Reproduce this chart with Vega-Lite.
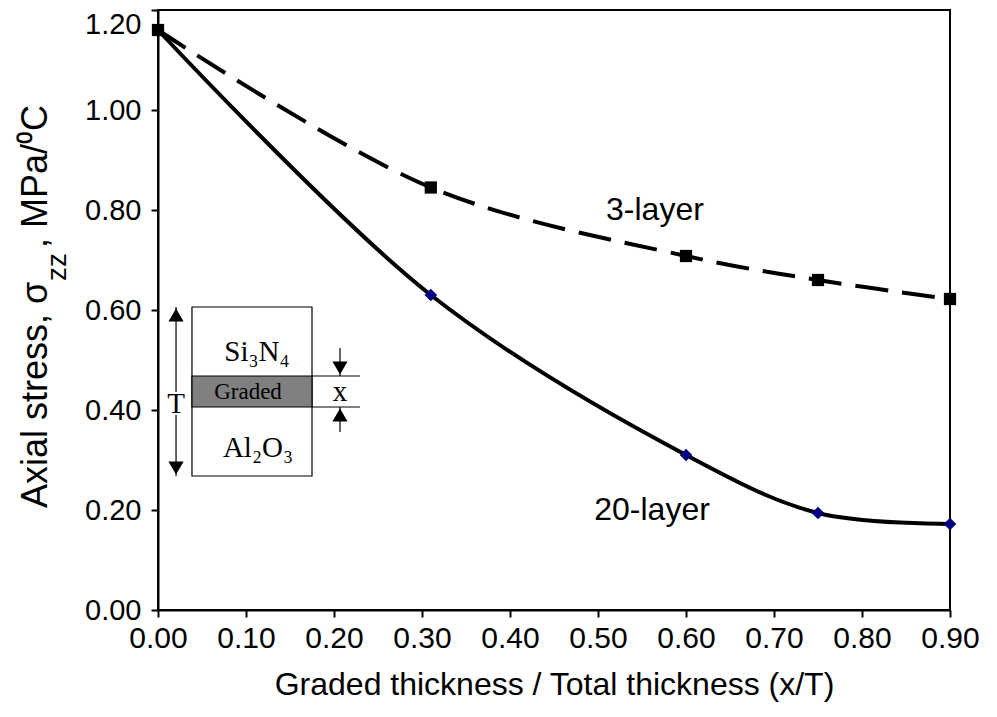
{
  "$schema": "https://vega.github.io/schema/vega-lite/v6.json",
  "width": 792,
  "height": 600,
  "autosize": {"type": "none"},
  "padding": {"left": 158, "top": 10, "right": 47, "bottom": 107},
  "background": "white",
  "config": {"view": {"stroke": "black", "strokeWidth": 2}, "font": "Liberation Sans"},
  "datasets": {
    "curves": [
      {"series": "3-layer", "x": 0, "y": 1.16},
      {"series": "3-layer", "x": 0.31, "y": 0.845},
      {"series": "3-layer", "x": 0.6, "y": 0.708},
      {"series": "3-layer", "x": 0.75, "y": 0.66},
      {"series": "3-layer", "x": 0.9, "y": 0.622},
      {"series": "20-layer", "x": 0, "y": 1.16},
      {"series": "20-layer", "x": 0.31, "y": 0.63},
      {"series": "20-layer", "x": 0.6, "y": 0.31},
      {"series": "20-layer", "x": 0.75, "y": 0.194},
      {"series": "20-layer", "x": 0.9, "y": 0.172}
    ],
    "boxes": [
      {"part": "box", "x": 0.0386, "x2": 0.175, "y": 0.268, "y2": 0.606},
      {"part": "band", "x": 0.0386, "x2": 0.175, "y": 0.406, "y2": 0.468}
    ],
    "hlines": [
      {"x": 0.175, "x2": 0.2295, "y": 0.468},
      {"x": 0.175, "x2": 0.2295, "y": 0.406}
    ],
    "vlines": [
      {"x": 0.0205, "y": 0.436, "y2": 0.606},
      {"x": 0.0205, "y": 0.268, "y2": 0.39},
      {"x": 0.2068, "y": 0.468, "y2": 0.524},
      {"x": 0.2068, "y": 0.356, "y2": 0.406}
    ],
    "heads": [
      {"dir": "up", "x": 0.0205, "y": 0.59},
      {"dir": "up", "x": 0.2068, "y": 0.39},
      {"dir": "down", "x": 0.0205, "y": 0.284},
      {"dir": "down", "x": 0.2068, "y": 0.484}
    ],
    "insetText": [
      {"kind": "big", "x": 0.1125, "y": 0.516, "t": "Si₃N₄"},
      {"kind": "big", "x": 0.1136, "y": 0.324, "t": "Al₂O₃"},
      {"kind": "small", "x": 0.1023, "y": 0.437, "t": "Graded"},
      {"kind": "big", "x": 0.0205, "y": 0.412, "t": "T"},
      {"kind": "big", "x": 0.2068, "y": 0.436, "t": "x"}
    ],
    "labels": [
      {"x": 0.5647, "y": 0.8, "t": "3-layer"},
      {"x": 0.5614, "y": 0.2, "t": "20-layer"}
    ],
    "ytitle": [
      {"kind": "main", "x": -0.1386, "y": 0.204, "t": "Axial stress, σ"},
      {"kind": "sub", "x": -0.1136, "y": 0.658, "t": "zz"},
      {"kind": "main", "x": -0.1386, "y": 0.724, "t": ", MPa/⁰C"}
    ]
  },
  "encoding": {
    "x": {
      "field": "x", "type": "quantitative",
      "scale": {"domain": [0, 0.9], "nice": false, "zero": false},
      "axis": {
        "values": [0, 0.1, 0.2, 0.3, 0.4, 0.5, 0.6, 0.7, 0.8, 0.9],
        "format": ".2f", "grid": false,
        "domainColor": "black", "domainWidth": 2,
        "tickColor": "black", "tickWidth": 2, "tickSize": 7,
        "labelFont": "Liberation Sans Narrow, Arial Narrow, Liberation Sans", "labelFontSize": 30, "labelColor": "black",
        "labelPadding": 6, "labelFlush": false, "labelOverlap": false,
        "title": "Graded thickness / Total thickness (x/T)",
        "titleFont": "Liberation Sans", "titleFontSize": 32, "titleFontWeight": "normal",
        "titleColor": "black", "titlePadding": 16
      }
    },
    "y": {
      "field": "y", "type": "quantitative",
      "scale": {"domain": [0, 1.2], "nice": false, "zero": false},
      "axis": {
        "values": [0, 0.2, 0.4, 0.6, 0.8, 1.0, 1.2],
        "format": ".2f", "grid": false,
        "domainColor": "black", "domainWidth": 2,
        "tickColor": "black", "tickWidth": 2, "tickSize": 7,
        "labelFont": "Liberation Sans", "labelFontSize": 29, "labelColor": "black",
        "labelBaseline": {"condition": {"test": "datum.value >= 1.2", "value": "top"}, "value": "middle"},
        "labelPadding": 10, "labelFlush": false, "labelOverlap": false,
        "title": null
      }
    }
  },
  "layer": [
    {
      "data": {"name": "boxes"},
      "transform": [{"filter": "datum.part == 'box'"}],
      "mark": {"type": "rect", "fill": "white", "stroke": "black", "strokeWidth": 1.2},
      "encoding": {"x2": {"field": "x2"}, "y2": {"field": "y2"}}
    },
    {
      "data": {"name": "boxes"},
      "transform": [{"filter": "datum.part == 'band'"}],
      "mark": {"type": "rect", "fill": "#808080", "stroke": "black", "strokeWidth": 1.2},
      "encoding": {"x2": {"field": "x2"}, "y2": {"field": "y2"}}
    },
    {
      "data": {"name": "hlines"},
      "mark": {"type": "rule", "color": "black", "strokeWidth": 1.2},
      "encoding": {"x2": {"field": "x2"}}
    },
    {
      "data": {"name": "vlines"},
      "mark": {"type": "rule", "color": "black", "strokeWidth": 1.2},
      "encoding": {"y2": {"field": "y2"}}
    },
    {
      "data": {"name": "heads"},
      "transform": [{"filter": "datum.dir == 'up'"}],
      "mark": {"type": "point", "shape": "triangle-up", "filled": true, "color": "black", "size": 230, "opacity": 1}
    },
    {
      "data": {"name": "heads"},
      "transform": [{"filter": "datum.dir == 'down'"}],
      "mark": {"type": "point", "shape": "triangle-down", "filled": true, "color": "black", "size": 230, "opacity": 1}
    },
    {
      "data": {"name": "insetText"},
      "transform": [{"filter": "datum.kind == 'big'"}],
      "mark": {"type": "text", "font": "Liberation Serif", "fontSize": 29, "color": "black", "align": "center", "baseline": "middle"},
      "encoding": {"text": {"field": "t"}}
    },
    {
      "data": {"name": "insetText"},
      "transform": [{"filter": "datum.kind == 'small'"}],
      "mark": {"type": "text", "font": "Liberation Serif", "fontSize": 23, "color": "black", "align": "center", "baseline": "middle"},
      "encoding": {"text": {"field": "t"}}
    },
    {
      "data": {"name": "curves"},
      "transform": [{"filter": "datum.series == '3-layer'"}],
      "mark": {"type": "line", "color": "black", "strokeWidth": 4, "strokeDash": [33, 14], "interpolate": "catmull-rom"}
    },
    {
      "data": {"name": "curves"},
      "transform": [{"filter": "datum.series == '20-layer'"}],
      "mark": {"type": "line", "color": "black", "strokeWidth": 4, "interpolate": "catmull-rom"}
    },
    {
      "data": {"name": "curves"},
      "transform": [{"filter": "datum.series == '20-layer'"}],
      "mark": {"type": "point", "shape": "diamond", "filled": true, "color": "#000080", "size": 160, "opacity": 1}
    },
    {
      "data": {"name": "curves"},
      "transform": [{"filter": "datum.series == '3-layer'"}],
      "mark": {"type": "point", "shape": "square", "filled": true, "color": "black", "size": 150, "opacity": 1}
    },
    {
      "data": {"name": "labels"},
      "mark": {"type": "text", "fontSize": 32, "color": "black", "align": "center", "baseline": "middle"},
      "encoding": {"text": {"field": "t"}}
    },
    {
      "data": {"name": "ytitle"},
      "transform": [{"filter": "datum.kind == 'main'"}],
      "mark": {"type": "text", "fontSize": 36, "color": "black", "align": "left", "baseline": "middle", "angle": 270},
      "encoding": {"text": {"field": "t"}}
    },
    {
      "data": {"name": "ytitle"},
      "transform": [{"filter": "datum.kind == 'sub'"}],
      "mark": {"type": "text", "fontSize": 28, "color": "black", "align": "left", "baseline": "middle", "angle": 270},
      "encoding": {"text": {"field": "t"}}
    }
  ]
}
